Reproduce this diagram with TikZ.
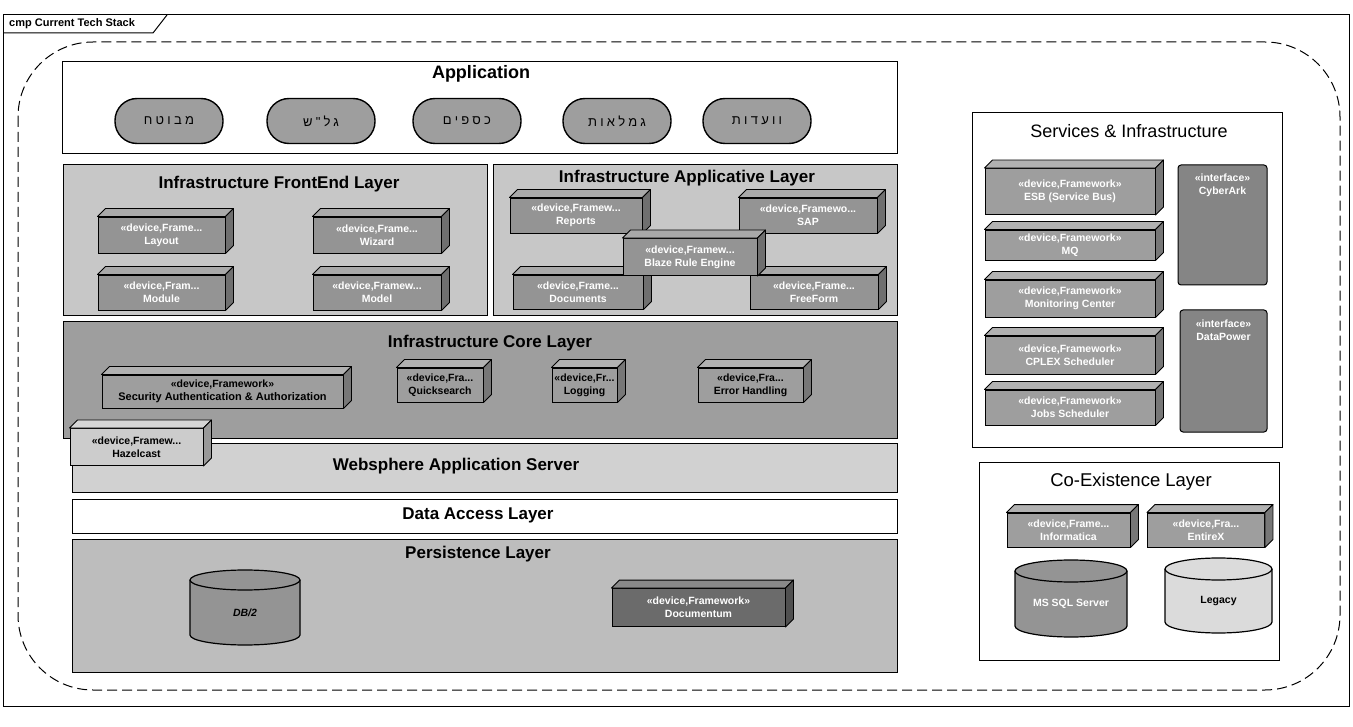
\documentclass[tikz,border=0pt]{standalone}
\usepackage{fontspec}
\setmainfont{Liberation Sans}
\newfontfamily\hebfont[Script=Hebrew,LetterSpace=25]{Liberation Sans}
\TeXXeTstate=1
\newcommand\heb[1]{{\hebfont\beginR #1\endR}}
\newcommand\devfont{\fontsize{10.5}{13}\selectfont\bfseries}
\newcommand\ttlfont{\fontsize{17}{20}\selectfont\bfseries}
\definecolor{ovalgray}{gray}{0.62}
\definecolor{frontgray}{gray}{0.78}
\definecolor{devgray}{gray}{0.58}
\definecolor{coregray}{gray}{0.62}
\definecolor{coredev}{gray}{0.62}
\definecolor{hazelgray}{gray}{0.80}
\definecolor{webgray}{gray}{0.82}
\definecolor{persgray}{gray}{0.74}
\definecolor{dbgray}{gray}{0.58}
\definecolor{docgray}{gray}{0.42}
\definecolor{svcgray}{gray}{0.62}
\definecolor{ifgray}{gray}{0.52}
\definecolor{legacygray}{gray}{0.86}
\tikzset{
  layer/.style={draw=black, line width=1pt},
  ttl/.style={font=\ttlfont, inner sep=1pt},
  oval/.style={draw=black, line width=1.4pt, fill=ovalgray, rounded corners=22pt,
    minimum width=108pt, minimum height=45pt, inner sep=1pt},
  devface/.style={draw=black, line width=0.9pt, align=center, inner sep=1pt, font=\devfont},
  devedge/.style={draw=black, line width=0.9pt, line join=round},
  iface/.style={draw=black, line width=1pt, fill=ifgray, rounded corners=3pt},
  cyl/.style={draw=black, line width=1.2pt, line join=round},
}
% name, cx, cy, w, h, fill, text colour, text
\newcommand\devbox[8]{%
  \node[devface, fill=#6, text=#7, minimum width=#4pt, minimum height=#5pt] (#1) at (#2,#3) {#8};
  \draw[devedge, fill=#6!80!white] (#1.north west) -- ([shift={(8,-8)}]#1.north west)
     -- ([shift={(8,-8)}]#1.north east) -- (#1.north east) -- cycle;
  \draw[devedge, fill=#6!75!black] (#1.north east) -- ([shift={(8,-8)}]#1.north east)
     -- ([shift={(8,-8)}]#1.south east) -- (#1.south east) -- cycle;
}
% name, x1, x2, ytop, ybottom, ry, fill, text, text colour
\newcommand\cylinderdraw[9]{%
  \pgfmathsetmacro\cx{(#2+#3)/2}%
  \pgfmathsetmacro\rx{(#3-#2)/2}%
  \pgfmathsetmacro\yt{#4+#6}%
  \pgfmathsetmacro\yb{#5-#6}%
  \draw[cyl, fill=#7] (#2,\yt) -- (#2,\yb) arc[start angle=180, end angle=0, x radius=\rx, y radius=#6]
     -- (#3,\yt) arc[start angle=0, end angle=-180, x radius=\rx, y radius=#6] -- cycle;
  \draw[cyl] (#2,\yt) arc[start angle=180, end angle=0, x radius=\rx, y radius=#6];
  \node[font=\devfont, text=#9] (#1) at (\cx,{(#4+#5)/2+#6/2}) {#8};
}
\begin{document}
\begin{tikzpicture}[x=1pt,y=-1pt]
\useasboundingbox (0,0) rectangle (1353,727);
\fill[white] (0,0) rectangle (1353,727);

% frame
\draw[line width=1pt] (3,15) rectangle (1349,706);
\draw[line width=1pt] (3,33) -- (153,33) -- (167,15);
\node[anchor=west, font=\fontsize{11}{13}\selectfont\bfseries, inner sep=1pt] (tab) at (8,24) {cmp Current Tech Stack};

% dashed boundary
\draw[line width=1pt, dash pattern=on 10pt off 5pt, rounded corners=75pt] (18,42) rectangle (1340,690);

% Application
\draw[layer, fill=white] (62,62) rectangle (897,154);
\node[ttl, font=\fontsize{18}{21}\selectfont\bfseries] (apptitle) at (481,74) {Application};
\node[oval] (o1) at (169,121) {\fontsize{13}{15}\selectfont\heb{מבוטח}};
\node[oval] (o2) at (321,121) {\fontsize{13}{15}\selectfont\heb{גל"ש}};
\node[oval] (o3) at (467,121) {\fontsize{13}{15}\selectfont\heb{כספים}};
\node[oval] (o4) at (617,121) {\fontsize{13}{15}\selectfont\heb{גמלאות}};
\node[oval] (o5) at (757,121) {\fontsize{13}{15}\selectfont\heb{וועדות}};

% FrontEnd layer
\draw[layer, fill=frontgray] (63,165) rectangle (487,316);
\node[ttl] (fetitle) at (279,184) {Infrastructure FrontEnd Layer};
\devbox{layout}{161.5}{235}{127}{36}{devgray}{white}{«device,Frame...\\Layout}
\devbox{wizard}{377}{235}{128}{36}{devgray}{white}{«device,Frame...\\Wizard}
\devbox{module}{161.5}{292.5}{127}{35}{devgray}{white}{«device,Fram...\\Module}
\devbox{model}{377}{292.5}{128}{35}{devgray}{white}{«device,Framew...\\Model}

% Applicative layer
\draw[layer, fill=frontgray] (493,165) rectangle (897,316);
\node[ttl] (aptitle) at (687,178) {Infrastructure Applicative Layer};
\devbox{reports}{576}{215.5}{132}{35}{devgray}{white}{«device,Framew...\\Reports}
\devbox{sap}{808}{215.5}{138}{35}{devgray}{white}{«device,Framewo...\\SAP}
\devbox{documents}{578}{292}{130}{34}{devgray}{white}{«device,Frame...\\Documents}
\devbox{freeform}{814}{292}{128}{34}{devgray}{white}{«device,Frame...\\FreeForm}
\devbox{blaze}{690}{257}{134}{37}{devgray}{white}{«device,Framew...\\Blaze Rule Engine}

% Core layer
\draw[layer, fill=coregray] (63,322) rectangle (897,438);
\node[ttl] (coretitle) at (490,343) {Infrastructure Core Layer};
\devbox{security}{222.5}{391.5}{241}{33}{coredev}{black}{«device,Framework»\\\fontsize{11}{13}\selectfont Security Authentication \& Authorization}
\devbox{quick}{440}{385}{86}{34}{coredev}{black}{«device,Fra...\\Quicksearch}
\devbox{logging}{584.5}{385}{65}{34}{coredev}{black}{«device,Fr...\\Logging}
\devbox{error}{750.5}{385}{105}{34}{coredev}{black}{«device,Fra...\\Error Handling}

% Websphere
\draw[layer, fill=webgray] (72,443) rectangle (897,492);
\node[ttl] (wstitle) at (456,466) {Websphere Application Server};
\devbox{hazel}{136.5}{447}{133}{37}{hazelgray}{black}{«device,Framew...\\Hazelcast}

% Data access
\draw[layer, fill=white] (72,499) rectangle (897,533);
\node[ttl] (datitle) at (478,515) {Data Access Layer};

% Persistence
\draw[layer, fill=persgray] (72,539) rectangle (897,672);
\node[ttl] (pertitle) at (478,554) {Persistence Layer};
\cylinderdraw{db2}{190}{300}{570}{645}{10}{dbgray}{\textit{DB/2}}{black}
\devbox{documentum}{698.5}{607.5}{173}{38}{docgray}{white}{«device,Framework»\\Documentum}

% Services & Infrastructure
\draw[layer, fill=white] (972,113) rectangle (1282,447);
\node[ttl, font=\fontsize{18}{21}\selectfont] (svctitle) at (1129,131) {Services \& Infrastructure};
\devbox{esb}{1070}{191.5}{170}{46}{svcgray}{white}{«device,Framework»\\ESB (Service Bus)}
\devbox{mq}{1070}{245}{170}{30}{svcgray}{white}{«device,Framework»\\MQ}
\devbox{monitor}{1070}{298.5}{170}{37}{svcgray}{white}{«device,Framework»\\Monitoring Center}
\devbox{cplex}{1070}{355}{170}{38}{svcgray}{white}{«device,Framework»\\CPLEX Scheduler}
\devbox{jobs}{1070}{407.5}{170}{35}{svcgray}{white}{«device,Framework»\\Jobs Scheduler}
\draw[iface] (1178,165) rectangle (1267,285);
\node[font=\devfont, text=white, align=center] (cyberark) at (1222.5,185) {«interface»\\CyberArk};
\draw[iface] (1180,310) rectangle (1267,432);
\node[font=\devfont, text=white, align=center] (datapower) at (1223.5,330) {«interface»\\DataPower};

% Co-Existence
\draw[layer, fill=white] (979,462) rectangle (1279,660);
\node[ttl, font=\fontsize{18.5}{21}\selectfont] (cotitle) at (1131,482) {Co-Existence Layer};
\devbox{informatica}{1068.5}{530}{123}{34}{svcgray}{white}{«device,Frame...\\Informatica}
\devbox{entirex}{1206}{530}{117}{34}{svcgray}{white}{«device,Fra...\\EntireX}
\cylinderdraw{mssql}{1015}{1127}{560}{637}{11}{dbgray}{MS SQL Server}{white}
\cylinderdraw{legacy}{1165}{1272}{558}{633}{11}{legacygray}{Legacy}{black}
\end{tikzpicture}
\end{document}
